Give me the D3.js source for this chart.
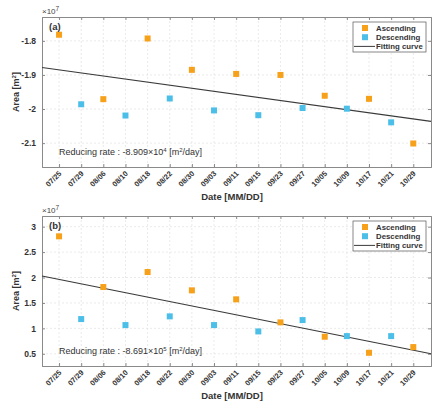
<!DOCTYPE html>
<html><head><meta charset="utf-8">
<script src="https://cdn.jsdelivr.net/npm/d3@7"></script>
<style>body{margin:0;background:#fff;} text{font-family:"Liberation Sans",Arial,sans-serif;}</style>
</head><body>
<svg id="c" width="443" height="410"></svg>
<script>
const dates = ["07/25","07/29","08/06","08/10","08/18","08/22","08/30","09/03","09/11","09/15","09/23","09/27","10/05","10/09","10/17","10/21","10/29"];
const ascDatesA = ["07/25","08/06","08/18","08/30","09/11","09/23","10/05","10/17","10/29"];
const descDatesA = ["07/29","08/10","08/22","09/03","09/15","09/27","10/09","10/21"];
// panel (a) values (x1e7 m^2)
const ascA = [-1.782, -1.971, -1.793, -1.885, -1.897, -1.900, -1.961, -1.970, -2.101];
const descA = [-1.986, -2.019, -1.969, -2.004, -2.018, -1.997, -1.999, -2.039];
const fitA = [-1.885, -2.029]; // fitted value at first and last date
const yTicksA = [-2.1, -2.0, -1.9, -1.8];
const yTickLabelsA = ["-2.1","-2","-1.9","-1.8"];
// panel (b) values
const ascB = [2.81, 1.813, 2.108, 1.748, 1.571, 1.118, 0.835, 0.52, 0.632];
const descB = [1.183, 1.065, 1.236, 1.065, 0.94, 1.163, 0.848, 0.848];
const fitB = [1.963, 0.571];
const yTicksB = [0.5, 1, 1.5, 2, 2.5, 3];
const yTickLabelsB = ["0.5","1","1.5","2","2.5","3"];

const svg = d3.select("#c");
const orange = "#f7a11a", blue = "#4cbfe9";

function panel(cfg){
  const g = svg.append("g");
  const L = 42, R = 431, T = cfg.top, B = cfg.top + 150;
  const x = d3.scaleLinear().domain([-0.77, dates.length - 1 + 0.8]).range([L, R]);
  const y = d3.scaleLinear().domain(cfg.domain).range([B, T]);
  const idx = d => dates.indexOf(d);
  // grid
  g.selectAll(".vg").data(dates).enter().append("line")
    .attr("x1", d => x(idx(d))).attr("x2", d => x(idx(d))).attr("y1", T).attr("y2", B)
    .attr("stroke", "#dcdcdc").attr("stroke-width", 0.6).attr("stroke-dasharray", "2,2");
  g.selectAll(".hg").data(cfg.yTicks).enter().append("line")
    .attr("x1", L).attr("x2", R).attr("y1", d => y(d)).attr("y2", d => y(d))
    .attr("stroke", "#dcdcdc").attr("stroke-width", 0.6).attr("stroke-dasharray", "2,2");
  // axes with inner ticks
  const xa = g.append("g").attr("transform", `translate(0,${B})`)
    .call(d3.axisBottom(x).tickValues(d3.range(dates.length)).tickSize(-3).tickFormat(""));
  const xt = g.append("g").attr("transform", `translate(0,${T})`)
    .call(d3.axisTop(x).tickValues(d3.range(dates.length)).tickSize(-3).tickFormat(""));
  const ya = g.append("g").attr("transform", `translate(${L},0)`)
    .call(d3.axisLeft(y).tickValues(cfg.yTicks).tickSize(-3).tickFormat((d,i)=>cfg.yLabels[i]).tickPadding(6));
  const yr = g.append("g").attr("transform", `translate(${R},0)`)
    .call(d3.axisRight(y).tickValues(cfg.yTicks).tickSize(-3).tickFormat(""));
  [xa, xt, ya, yr].forEach(a => { a.select(".domain").attr("stroke", "#8a8a8a"); a.selectAll(".tick line").attr("stroke", "#8a8a8a"); });
  ya.selectAll("text").attr("font-size", 8.5).attr("font-weight", "bold").attr("fill", "#333");
  // x tick labels rotated
  g.selectAll(".xl").data(dates).enter().append("text")
    .attr("transform", d => `translate(${x(idx(d)) + 3},${B + 7}) rotate(-45)`)
    .attr("text-anchor", "end").attr("font-size", 7.5).attr("font-weight", "bold").attr("fill", "#333")
    .text(d => d);
  // fit line
  const slope = (cfg.fit[1] - cfg.fit[0]) / (dates.length - 1);
  const fx = x.domain();
  g.append("line")
    .attr("x1", x(fx[0])).attr("y1", y(cfg.fit[0] + slope * fx[0]))
    .attr("x2", x(fx[1])).attr("y2", y(cfg.fit[0] + slope * fx[1]))
    .attr("stroke", "#3a3a3a").attr("stroke-width", 1.2);
  // markers
  const s = 6;
  g.selectAll(".a").data(ascDatesA).enter().append("rect")
    .attr("x", (d,i) => x(idx(d)) - s/2).attr("y", (d,i) => y(cfg.asc[i]) - s/2)
    .attr("width", s).attr("height", s).attr("fill", orange);
  g.selectAll(".d").data(descDatesA).enter().append("rect")
    .attr("x", (d,i) => x(idx(d)) - s/2).attr("y", (d,i) => y(cfg.desc[i]) - s/2)
    .attr("width", s).attr("height", s).attr("fill", blue);
  // exponent label
  const ex = g.append("text").attr("x", L).attr("y", T - 3).attr("font-size", 8).attr("fill", "#444");
  ex.append("tspan").text("×10");
  ex.append("tspan").attr("dy", -3.5).attr("font-size", 6.5).text("7");
  // panel label
  g.append("text").attr("x", L + 7).attr("y", T + 13).attr("font-size", 9.5).attr("font-weight", "bold").attr("fill", "#333").text(cfg.label);
  // y label
  const yl = g.append("text").attr("transform", `translate(19,${(T+B)/2}) rotate(-90)`)
    .attr("text-anchor", "middle").attr("font-size", 9).attr("font-weight", "bold").attr("fill", "#333");
  yl.append("tspan").text("Area [m");
  yl.append("tspan").attr("dy", -3).attr("font-size", 6).text("2");
  yl.append("tspan").attr("dy", 3).text("]");
  // x label
  g.append("text").attr("x", 232).attr("y", B + 33).attr("text-anchor", "middle")
    .attr("font-size", 9.5).attr("font-weight", "bold").attr("fill", "#333").text("Date [MM/DD]");
  // reducing rate
  const rr = g.append("text").attr("x", 59).attr("y", B - 12).attr("font-size", 9).attr("fill", "#333");
  rr.append("tspan").text(cfg.rate);
  rr.append("tspan").attr("dy", -3.5).attr("font-size", 6).text(cfg.rateExp);
  rr.append("tspan").attr("dy", 3.5).text(" [m");
  rr.append("tspan").attr("dy", -3.5).attr("font-size", 6).text("2");
  rr.append("tspan").attr("dy", 3.5).text("/day]");
  // legend
  const lx = 353, ly = T + 5;
  const lg = g.append("g");
  lg.append("rect").attr("x", lx).attr("y", ly).attr("width", 73).attr("height", 30)
    .attr("fill", "#fff").attr("stroke", "#555").attr("stroke-width", 0.7);
  const items = [["Ascending", orange, "rect"], ["Descending", blue, "rect"], ["Fitting curve", "#3a3a3a", "line"]];
  items.forEach((it, i) => {
    const cy = ly + 6 + i * 9.2;
    if (it[2] === "rect") lg.append("rect").attr("x", lx + 9).attr("y", cy - 3).attr("width", 6).attr("height", 6).attr("fill", it[1]);
    else lg.append("line").attr("x1", lx + 1).attr("x2", lx + 22).attr("y1", cy).attr("y2", cy).attr("stroke", it[1]).attr("stroke-width", 1);
    lg.append("text").attr("x", lx + 23).attr("y", cy + 3).attr("font-size", 7.8).attr("font-weight", "bold").attr("fill", "#333").text(it[0]);
  });
}

panel({top: 17, domain: [-2.17, -1.73], yTicks: yTicksA, yLabels: yTickLabelsA, asc: ascA, desc: descA, fit: fitA, label: "(a)", rate: "Reducing rate : -8.909×10", rateExp: "4"});
panel({top: 216, domain: [0.26, 3.21], yTicks: yTicksB, yLabels: yTickLabelsB, asc: ascB, desc: descB, fit: fitB, label: "(b)", rate: "Reducing rate : -8.691×10", rateExp: "5"});
</script>
</body></html>
